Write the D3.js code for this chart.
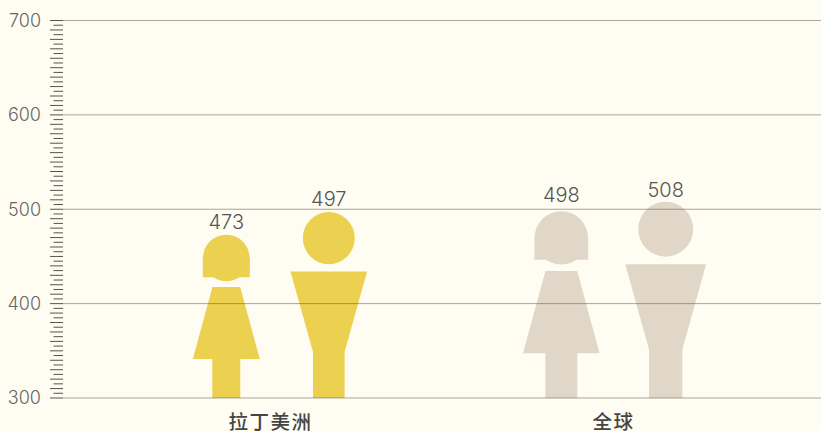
<!DOCTYPE html>
<html>
<head>
<meta charset="utf-8">
<script src="https://cdn.jsdelivr.net/npm/d3@7"></script>
<style>
  html, body { margin: 0; padding: 0; background: #fffdf2; overflow: hidden; }
</style>
</head>
<body>
<script>
// data
var categories = ["拉丁美洲", "全球"];
var femaleValues = [473, 498];
var maleValues = [497, 508];
var tickLabels = [300, 400, 500, 600, 700];

var svgWidth = 821;
var svgHeight = 431;
var colors = { "拉丁美洲": "#ecd04f", "全球": "#e1d7c9" };

var svg = d3.select("body")
  .append("svg")
  .attr("width", svgWidth)
  .attr("height", svgHeight)
  .style("display", "block");

var y = d3.scaleLinear().domain([300, 700]).range([398, 20.5]);

var xLabel = d3.scaleOrdinal().domain(categories).range([270.5, 613.5]);
var xFemale = d3.scaleOrdinal().domain(categories).range([226.3, 561.3]);
var xMale = d3.scaleOrdinal().domain(categories).range([328.8, 665.7]);
// gap between a figure's head and its value
var femaleGap = d3.scaleOrdinal().domain(categories).range([5.5, 9.3]);
var maleGap = d3.scaleOrdinal().domain(categories).range([6, 5]);

// figure outlines, in fractions of the figure height
function femaleShape(g, h) {
  var r = 0.1427 * h;
  g.append("circle").attr("cx", 0).attr("cy", r).attr("r", r);
  g.append("path").attr("d", d3.line()([
    [-0.144 * h, r], [0.144 * h, r], [0.144 * h, 0.26 * h], [-0.144 * h, 0.26 * h]
  ]) + "Z");
  g.append("path").attr("d", d3.line()([
    [-0.085 * h, 0.32 * h], [0.085 * h, 0.32 * h], [0.205 * h, 0.761 * h],
    [0.0857 * h, 0.761 * h], [0.0857 * h, h], [-0.0857 * h, h],
    [-0.0857 * h, 0.761 * h], [-0.205 * h, 0.761 * h]
  ]) + "Z");
}

function maleShape(g, h) {
  var r = 0.14 * h;
  g.append("circle").attr("cx", 0).attr("cy", r).attr("r", r);
  g.append("path").attr("d", d3.line()([
    [-0.206 * h, 0.319 * h], [0.206 * h, 0.319 * h], [0.085 * h, 0.753 * h],
    [0.085 * h, h], [-0.085 * h, h], [-0.085 * h, 0.753 * h]
  ]) + "Z");
}

function addFigures(values, xScale, gap, shape) {
  categories.forEach(function (c, i) {
    var v = values[i];
    var g = svg.append("g")
      .attr("fill", colors[c])
      .attr("transform", `translate(${xScale(c)}, ${y(v)})`);
    shape(g, y(300) - y(v));
    svg.append("text")
      .attr("x", xScale(c))
      .attr("y", y(v) - gap(c))
      .attr("text-anchor", "middle")
      .style("font-family", "Inter")
      .style("font-weight", 300)
      .style("font-size", "20px")
      .style("fill", "#555555")
      .text(v);
  });
}

addFigures(femaleValues, xFemale, femaleGap, femaleShape);
addFigures(maleValues, xMale, maleGap, maleShape);

// gridlines sit over the figures
svg.selectAll(".grid")
  .data(tickLabels)
  .enter()
  .append("line")
  .attr("class", "grid")
  .attr("x1", 63)
  .attr("x2", svgWidth)
  .attr("y1", d => y(d))
  .attr("y2", d => y(d))
  .attr("stroke", "#55503f")
  .attr("stroke-opacity", 0.5);

var yAxis = d3.axisLeft(y)
  .tickValues(d3.range(300, 701, 5))
  .tickSize(13)
  .tickPadding(9)
  .offset(0)
  .tickFormat(d => tickLabels.includes(d) ? d : "");

var axisG = svg.append("g")
  .attr("transform", "translate(63, 0)")
  .call(yAxis);

axisG.select(".domain").remove();
// every second tick is the short one
axisG.selectAll(".tick line")
  .attr("x2", d => d % 10 === 0 ? -13 : -9.5)
  .attr("stroke", "#55534a");
axisG.selectAll("text")
  .attr("dy", "0.36em")
  .style("font-family", "Inter")
  .style("font-weight", 300)
  .style("font-size", "18px")
  .style("fill", "#666666");

svg.selectAll(".cat")
  .data(categories)
  .enter()
  .append("text")
  .attr("class", "cat")
  .attr("x", d => xLabel(d))
  .attr("y", 429)
  .attr("text-anchor", "middle")
  .style("font-family", "'Noto Sans CJK SC'")
  .style("font-weight", 500)
  .style("font-size", "19.5px")
  .style("letter-spacing", "1.5px")
  .style("fill", "#444444")
  .text(d => d);
</script>
</body>
</html>
